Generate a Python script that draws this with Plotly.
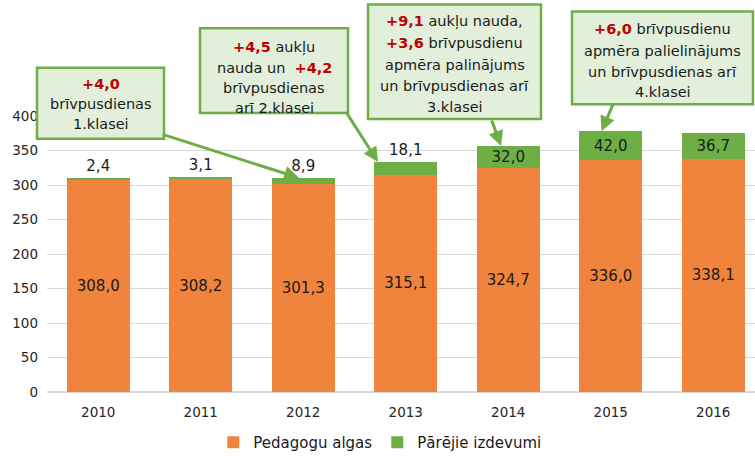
import plotly.graph_objects as go

years = ["2010", "2011", "2012", "2013", "2014", "2015", "2016"]
pedagogu_algas = [308.0, 308.2, 301.3, 315.1, 324.7, 336.0, 338.1]
parejie_izdevumi = [2.4, 3.1, 8.9, 18.1, 32.0, 42.0, 36.7]
y_ticks = [0, 50, 100, 150, 200, 250, 300, 350, 400]

RED = "<b><span style='color:#C00000'>{}</span></b>"
callout_lines = [
    [RED.format("+4,0"), "brīvpusdienas", "1.klasei"],
    [RED.format("+4,5") + " aukļu", "nauda un  " + RED.format("+4,2"), "brīvpusdienas", "arī 2.klasei"],
    [RED.format("+9,1") + " aukļu nauda,", RED.format("+3,6") + " brīvpusdienu", "apmēra palinājums",
     "un brīvpusdienas arī", "3.klasei"],
    [RED.format("+6,0") + " brīvpusdienu", "apmēra palielinājums", "un brīvpusdienas arī", "4.klasei"],
]

FONT = "DejaVu Sans"
fmt = lambda v: f"{v:.1f}".replace(".", ",")

ORANGE = "#F0843C"
GREEN = "#6DAE45"

fig = go.Figure()
fig.add_trace(go.Bar(
    x=years, y=pedagogu_algas, name="Pedagogu algas",
    marker=dict(color=ORANGE, line=dict(width=0)),
    text=[fmt(v) for v in pedagogu_algas], textposition="inside",
    insidetextanchor="middle", textangle=0, constraintext="none",
    textfont=dict(family=FONT, size=15, color="#1a1a1a"),
))
fig.add_trace(go.Bar(
    x=years, y=parejie_izdevumi, name="Pārējie izdevumi",
    marker=dict(color=GREEN, line=dict(width=0)),
    text=[fmt(v) for v in parejie_izdevumi],
    textposition=["outside"] * 4 + ["inside"] * 3,
    insidetextanchor="middle", textangle=0, constraintext="none",
    textfont=dict(family=FONT, size=15, color="#1a1a1a"),
    cliponaxis=False,
))

# Plot area geometry (pixels)
W, H = 755, 459
L, R, T, B = 47, 0, 116, 63
pw = W - L - R
ph = H - T - B
step = 102.5
xr = [-0.5, -0.5 + pw / step]

def px(x):
    return (x - L) / pw

def py(y):
    return (H - B - y) / ph

boxes = [
    (37, 164, 67, 139),
    (200, 348, 27, 113),
    (368, 541, 3, 119),
    (572, 753, 10, 104),
]
line_ys = [
    [84, 104, 124],
    [46, 67, 88, 108],
    [20, 42, 64, 86, 107],
    [28, 50, 71, 92],
]
for (x0, x1, y0, y1), lines, ys in zip(boxes, callout_lines, line_ys):
    fig.add_shape(type="rect", xref="paper", yref="paper",
                  x0=px(x0), x1=px(x1), y0=py(y1), y1=py(y0),
                  fillcolor="#E2EFDA", line=dict(color="#70AD47", width=2.5), layer="above")
    for txt, yy in zip(lines, ys):
        fig.add_annotation(
            xref="paper", yref="paper",
            x=px((x0 + x1) / 2), y=py(yy),
            xanchor="center", yanchor="middle",
            text=txt, showarrow=False,
            font=dict(family=FONT, size=14.5, color="#1a1a1a"),
        )

# arrows: (category index, offset, ax, ay)
arrows = [(2, -0.04, -138, -44), (3, -0.27, -32, -50), (4, -0.07, -10, -27), (5, -0.09, 12, -28)]
for idx, off, ax, ay in arrows:
    fig.add_annotation(
        x=idx + off, y=pedagogu_algas[idx] + parejie_izdevumi[idx],
        xref="x", yref="y", ax=ax, ay=ay, text="",
        showarrow=True, arrowhead=2, arrowsize=1, arrowwidth=3,
        arrowcolor="#70AD47",
    )

fig.update_layout(
    width=W, height=H, barmode="stack", bargap=0.385,
    margin=dict(l=L, r=R, t=T, b=B),
    plot_bgcolor="white", paper_bgcolor="white",
    font=dict(family=FONT, size=13, color="#262626"),
    legend=dict(orientation="h", x=0.47, xanchor="center", y=-0.125, yanchor="top",
                font=dict(family=FONT, size=15, color="#1a1a1a"),
                itemwidth=30, traceorder="normal"),
    showlegend=True,
)
fig.update_xaxes(type="category", range=xr, showgrid=False, showline=False,
                 ticks="", tickfont=dict(size=13.5, color="#262626"), ticklabelstandoff=10)
fig.update_yaxes(range=[0, 400], tickvals=y_ticks, showgrid=True, gridcolor="#D9D9D9",
                 gridwidth=1, zeroline=True, zerolinecolor="#D9D9D9", showline=False,
                 ticks="", tickfont=dict(size=13.5, color="#262626"), ticklabelstandoff=8)

fig.write_html("out.html", config={"displayModeBar": False},
               post_script="document.body.style.margin='0px';")
